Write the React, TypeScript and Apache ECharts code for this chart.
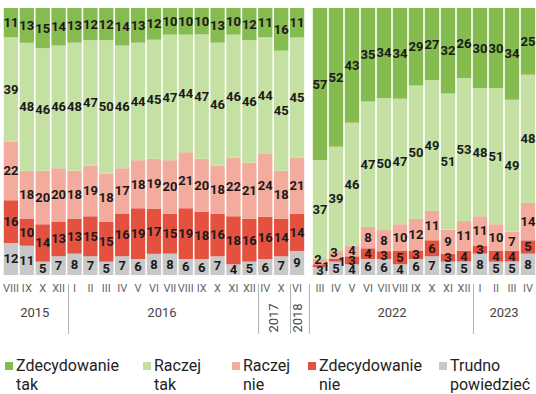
import React, { useEffect, useRef } from 'react';
import * as echarts from 'echarts';

// ---- Data ----
const leftMonths = ['VIII', 'IX', 'X', 'XII', 'I', 'II', 'III', 'IV', 'V', 'VI', 'VII', 'VIII', 'IX', 'X', 'XI', 'XII', 'IV', 'X', 'VI'];
const leftYears = ['2015', '2015', '2015', '2015', '2016', '2016', '2016', '2016', '2016', '2016', '2016', '2016', '2016', '2016', '2016', '2016', '2017', '2017', '2018'];
const leftZdecTak = [11, 13, 15, 14, 13, 12, 12, 14, 13, 12, 10, 10, 10, 13, 10, 12, 11, 16, 11];
const leftRaczejTak = [39, 48, 46, 46, 48, 47, 50, 46, 44, 45, 47, 44, 47, 46, 46, 46, 44, 45, 45];
const leftRaczejNie = [22, 18, 20, 20, 18, 19, 18, 17, 18, 19, 20, 21, 20, 18, 22, 21, 24, 18, 21];
const leftZdecNie = [16, 10, 14, 13, 13, 15, 15, 16, 19, 17, 15, 19, 18, 16, 18, 16, 16, 14, 14];
const leftTrudno = [12, 11, 5, 7, 8, 7, 5, 7, 6, 8, 8, 6, 6, 7, 4, 5, 6, 7, 9];

const rightMonths = ['III', 'IV', 'V', 'VI', 'VII', 'VIII', 'IX', 'X', 'XI', 'XII', 'I', 'II', 'III', 'IV'];
const rightYears = ['2022', '2022', '2022', '2022', '2022', '2022', '2022', '2022', '2022', '2022', '2023', '2023', '2023', '2023'];
const rightZdecTak = [57, 52, 43, 35, 34, 34, 29, 27, 32, 26, 30, 30, 34, 25];
const rightRaczejTak = [37, 39, 46, 47, 50, 47, 50, 49, 51, 53, 48, 51, 49, 48];
const rightRaczejNie = [2, 3, 4, 8, 8, 10, 12, 11, 9, 11, 11, 10, 7, 14];
const rightZdecNie = [1, 1, 3, 4, 3, 5, 3, 6, 3, 4, 3, 4, 4, 5];
const rightTrudno = [3, 5, 4, 6, 6, 4, 6, 7, 5, 5, 8, 5, 5, 8];

const legendLines = [
  ['Zdecydowanie', 'tak'],
  ['Raczej', 'tak'],
  ['Raczej', 'nie'],
  ['Zdecydowanie', 'nie'],
  ['Trudno', 'powiedzieć'],
];

// bottom -> top stacking order
const seriesNames = ['Trudno powiedzieć', 'Zdecydowanie nie', 'Raczej nie', 'Raczej tak', 'Zdecydowanie tak'];
const colors = ['#c8c8c8', '#e4513f', '#f2ab9c', '#c5e0a3', '#86bb50'];
const legendColors = ['#86bb50', '#c5e0a3', '#f2ab9c', '#e4513f', '#c8c8c8'];

const FONT = "Roboto, 'Liberation Sans', sans-serif";

function labelOffset(k: number, v: number): number[] {
  // nudge labels of very thin segments so they stay readable
  if (k === 1 && v <= 1) return [6, 1];
  if (k === 2 && v <= 3) return [-2, -2];
  return [0, 0];
}

function panelSeries(arrays: number[][], axisIndex: number, stack: string) {
  const n = arrays[0].length;
  const sums: number[] = [];
  for (let i = 0; i < n; i++) {
    let s = 0;
    arrays.forEach((a) => (s += a[i]));
    sums.push(s);
  }
  return arrays.map((arr, k) => ({
    name: seriesNames[k],
    type: 'bar',
    stack,
    xAxisIndex: axisIndex,
    yAxisIndex: axisIndex,
    barCategoryGap: '10%',
    itemStyle: { color: colors[k] },
    label: {
      show: true,
      position: 'inside',
      color: '#1a1a1a',
      fontSize: 13,
      fontWeight: 'bold',
      fontFamily: FONT,
      formatter: (p: any) => String(p.data.raw),
    },
    data: arr.map((v, i) => ({
      value: (v / sums[i]) * 100,
      raw: v,
      label: { offset: labelOffset(k, v) },
    })),
  }));
}

export default function App() {
  const ref = useRef<HTMLDivElement>(null);

  useEffect(() => {
    if (!ref.current) return;
    const chart = echarts.init(ref.current, undefined, { renderer: 'svg' });

    const xAxisCommon = {
      type: 'category',
      axisLine: { show: false },
      axisTick: { show: false },
      axisLabel: { color: '#666', fontSize: 11, margin: 8, interval: 0, fontFamily: FONT },
    };

    chart.setOption({
      animation: false,
      backgroundColor: '#ffffff',
      grid: [
        { left: 0, top: 8, width: 305, height: 267 },
        { left: 312, top: 8, width: 224, height: 267 },
      ],
      xAxis: [
        { ...xAxisCommon, gridIndex: 0, data: leftMonths },
        { ...xAxisCommon, gridIndex: 1, data: rightMonths },
      ],
      yAxis: [
        { type: 'value', gridIndex: 0, min: 0, max: 100, show: false },
        { type: 'value', gridIndex: 1, min: 0, max: 100, show: false },
      ],
      series: [
        ...panelSeries([leftTrudno, leftZdecNie, leftRaczejNie, leftRaczejTak, leftZdecTak], 0, 'L'),
        ...panelSeries([rightTrudno, rightZdecNie, rightRaczejNie, rightRaczejTak, rightZdecTak], 1, 'R'),
      ],
    });

    const px = (axis: number, i: number) => chart.convertToPixel({ xAxisIndex: axis } as any, i) as unknown as number;

    const graphics: any[] = [];
    const lineStyle = { stroke: '#b4b4b4', lineWidth: 1 };
    const lineY1 = 284;
    const lineY2 = 334;
    const yearStyle = {
      fill: '#444',
      fontSize: 13,
      fontFamily: FONT,
      align: 'center',
      verticalAlign: 'middle',
    };

    const panels = [
      { axis: 0, years: leftYears },
      { axis: 1, years: rightYears },
    ];
    panels.forEach(({ axis, years }) => {
      let start = 0;
      for (let i = 1; i <= years.length; i++) {
        if (i === years.length || years[i] !== years[start]) {
          const end = i - 1;
          const cx = (px(axis, start) + px(axis, end)) / 2;
          const len = end - start + 1;
          if (len <= 2) {
            graphics.push({
              type: 'text',
              x: cx,
              y: 318,
              rotation: Math.PI / 2,
              style: { ...yearStyle, text: years[start] },
            });
          } else {
            graphics.push({
              type: 'text',
              x: cx,
              y: 312,
              style: { ...yearStyle, text: years[start] },
            });
          }
          if (i < years.length) {
            const sx = Math.round((px(axis, end) + px(axis, i)) / 2 + 1) + 0.5;
            graphics.push({ type: 'line', shape: { x1: sx, y1: lineY1, x2: sx, y2: lineY2 }, style: lineStyle });
          }
          start = i;
        }
      }
    });
    // separator between the two panels
    const midX = Math.round((px(0, leftYears.length - 1) + px(1, 0)) / 2) + 0.5;
    graphics.push({ type: 'line', shape: { x1: midX, y1: lineY1, x2: midX, y2: lineY2 }, style: lineStyle });

    // legend
    const legendX = [5, 143, 232, 308, 439];
    legendLines.forEach((lines, k) => {
      graphics.push({
        type: 'rect',
        shape: { x: legendX[k], y: 362, width: 8, height: 8 },
        style: { fill: legendColors[k] },
      });
      graphics.push({
        type: 'text',
        x: legendX[k] + 11,
        y: 356,
        style: {
          text: lines[0] + '\n' + lines[1],
          fill: '#222',
          fontSize: 16,
          fontFamily: FONT,
          lineHeight: 19,
          verticalAlign: 'top',
        },
      });
    });

    chart.setOption({ graphic: graphics });

    return () => chart.dispose();
  }, []);

  return (
    <div
      ref={ref}
      style={{ position: 'fixed', left: 0, top: 0, width: 536, height: 394, background: '#fff' }}
    />
  );
}
